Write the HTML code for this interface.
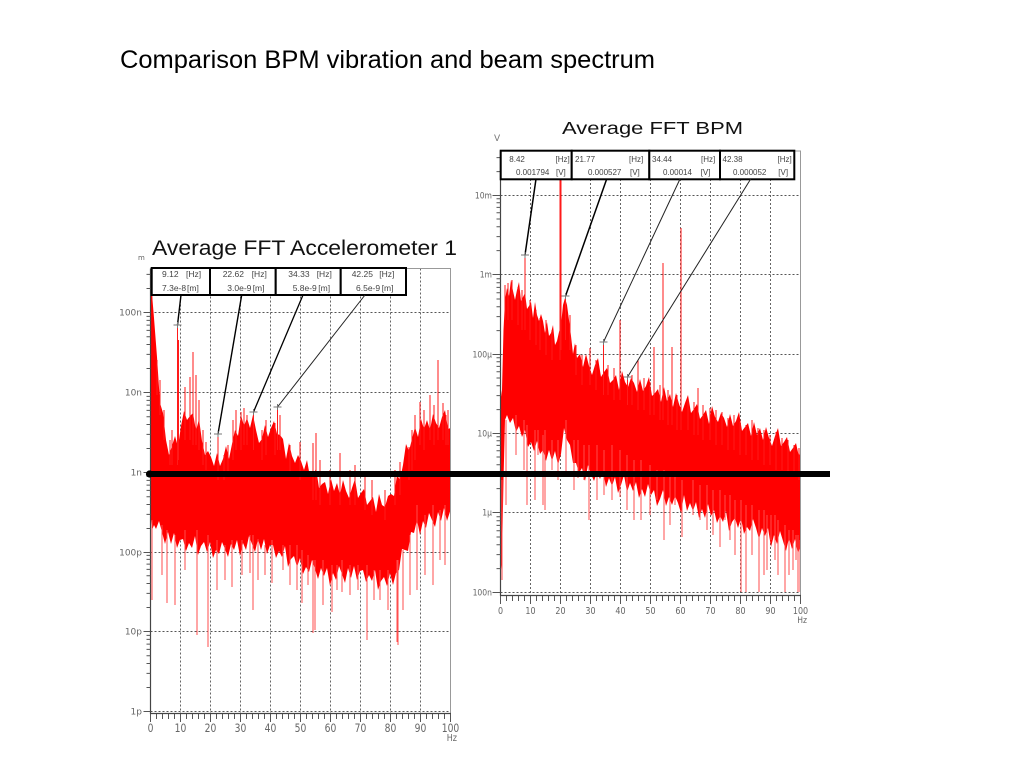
<!DOCTYPE html>
<html><head><meta charset="utf-8">
<style>
html,body{margin:0;padding:0;background:#fff;}
svg{display:block;}
</style></head>
<body>
<svg width="1024" height="768" viewBox="0 0 1024 768" xmlns="http://www.w3.org/2000/svg" font-family="Liberation Sans, Arial, sans-serif">
<defs>
<clipPath id="cl"><rect x="150.5" y="268.5" width="300" height="445"/></clipPath>
<clipPath id="cr"><rect x="500.5" y="151" width="300" height="444.5"/></clipPath>
</defs>
<rect width="1024" height="768" fill="#fff"/>
<text x="120" y="68" font-size="25" textLength="535" lengthAdjust="spacingAndGlyphs" fill="#000">Comparison BPM vibration and beam spectrum</text>
<text x="562" y="134" font-size="17.5" textLength="181" lengthAdjust="spacingAndGlyphs" fill="#111">Average FFT BPM</text>
<text x="152" y="255" font-size="21" textLength="305" lengthAdjust="spacingAndGlyphs" fill="#111">Average FFT Accelerometer 1</text>

<!-- ===== LEFT CHART ===== -->
<path d="M180.5 268.5V713.5M210.5 268.5V713.5M240.5 268.5V713.5M270.5 268.5V713.5M300.5 268.5V713.5M330.5 268.5V713.5M360.5 268.5V713.5M390.5 268.5V713.5M420.5 268.5V713.5M150.5 312.5H450.5M150.5 392.5H450.5M150.5 472.5H450.5M150.5 552.5H450.5M150.5 631.5H450.5M150.5 711.5H450.5" stroke="#555" stroke-width="0.9" stroke-dasharray="2 2" fill="none"/>
<g clip-path="url(#cl)">
<path fill="#ff0000" d="M150.5 268L151.5 268L152.5 300L154 318L157 357L160 403L163 413L166 440L169 455L172 446L175 436L178 447L181 426L184 411L187 420L190 416L193 413L196 431L199 419L202 441L205 455L208 451L211 457L214 466L217 453L220 466L223 459L226 446L229 459L232 444L235 430L238 436L241 415L244 426L247 418L250 428L253 415L256 430L259 443L262 439L265 425L268 437L271 428L274 421L277 434L280 435L283 439L286 459L289 443L292 456L295 463L298 455L301 461L304 470L307 460L310 477L313 477L316 468L319 488L322 484L325 482L328 494L331 479L334 491L337 483L340 495L343 480L346 491L349 498L352 488L355 479L358 498L361 493L364 489L367 505L370 501L373 497L376 512L379 494L382 505L385 507L388 496L391 494L394 496L397 475L400 480L403 465L406 444L409 451L412 439L415 427L418 437L421 419L424 429L427 420L430 430L433 414L436 423L439 428L442 417L445 410L448 429L450.5 428L450.5 510L447 521L444 508L441 521L438 512L435 527L432 520L429 513L426 528L423 521L420 535L417 520L414 533L411 532L408 551L405 550L402 549L399 570L396 573L393 585L390 573L387 586L384 577L381 581L378 590L375 570L372 581L369 575L366 582L363 570L360 571L357 580L354 566L351 578L348 568L345 583L342 574L339 566L336 580L333 573L330 586L327 568L324 576L321 568L318 579L315 569L312 560L309 572L306 567L303 574L300 558L297 567L294 556L291 559L288 567L285 546L282 557L279 551L276 558L273 545L270 545L267 554L264 539L261 550L258 539L255 552L252 544L249 536L246 550L243 543L240 556L237 540L234 550L231 544L228 557L225 549L222 542L219 554L216 550L213 558L210 542L207 552L204 542L201 546L198 555L195 536L192 548L189 543L186 551L183 539L180 540L177 548L174 533L171 544L168 532L165 544L162 532L159 521L156 529L154 525L152 530L151 520L150.5 500Z"/>
<path fill="none" stroke="#ff1a1a" stroke-width="1" d="M157 360V395M160 380V415M164 410V440M170 440V465M172 430V465M177.5 325V465M178.5 340V460M185 387V440M190 377V440M193 352V445M196 375V445M199 400V450M203 430V465M206 442V470M218 434V480M224 455V480M228 445V475M233 420V460M236 410V450M241 412V450M244 408V445M247 415V445M253.5 412V450M262 430V460M266 420V455M275 423V455M277.5 407V450M280 415V450M290 445V475M300 442V480M313 443V500M316 433V500M320 460V505M330 470V505M340 453V505M350 470V505M355 465V505M365 475V510M372 480V515M385 490V520M395 470V505M400 462V495M409 447V480M412 430V470M415 415V460M420 402V445M424 410V450M430 395V440M434 405V445M438 360V440M443 403V440M446 415V445M448 410V445"/>
<path fill="none" stroke="#ff4d4d" stroke-width="1" d="M152 600V520M162 575V525M167 603V530M175 605V535M185 570V530M197 635V530M208 647V535M217 590V540M225 580V545M232 587V540M242 575V540M250 573V535M253 610V535M258 580V540M265 575V545M272 583V540M283 570V545M290 585V545M297 590V545M302 603V550M308 585V555M313 633V560M315 630V560M323 605V560M332 612V565M337 590V565M342 592V560M350 595V565M358 590V565M367 640V565M374 600V570M380 600V570M388 610V570M397 642V560M398 645V560M403 610V550M410 595V535M417 590V505M425 575V515M433 585V505M440 560V510M445 565V505"/>
</g>
<path d="M150.5 268.5H450.5V713.5" stroke="#999" stroke-width="1" fill="none"/>
<path d="M150.5 268.5V713.5H451" stroke="#444" stroke-width="1.2" fill="none"/>
<path d="M146.5 288.5H150.5M146.5 274.4H150.5M146.5 368.5H150.5M146.5 354.4H150.5M146.5 344.5H150.5M146.5 336.7H150.5M146.5 330.4H150.5M146.5 325.1H150.5M146.5 320.4H150.5M146.5 316.4H150.5M146.5 448.5H150.5M146.5 434.4H150.5M146.5 424.5H150.5M146.5 416.7H150.5M146.5 410.4H150.5M146.5 405.1H150.5M146.5 400.4H150.5M146.5 396.4H150.5M146.5 528.5H150.5M146.5 514.4H150.5M146.5 504.5H150.5M146.5 496.7H150.5M146.5 490.4H150.5M146.5 485.1H150.5M146.5 480.4H150.5M146.5 476.4H150.5M146.5 607.5H150.5M146.5 593.4H150.5M146.5 583.5H150.5M146.5 575.7H150.5M146.5 569.4H150.5M146.5 564.1H150.5M146.5 559.4H150.5M146.5 555.4H150.5M146.5 687.5H150.5M146.5 673.4H150.5M146.5 663.5H150.5M146.5 655.7H150.5M146.5 649.4H150.5M146.5 644.1H150.5M146.5 639.4H150.5M146.5 635.4H150.5M143.5 312.5H150.5M143.5 392.5H150.5M143.5 472.5H150.5M143.5 552.5H150.5M143.5 631.5H150.5M143.5 711.5H150.5" stroke="#555" stroke-width="1" fill="none"/>
<path d="M150 716.5H452" stroke="#555" stroke-width="5" stroke-dasharray="1 5"/>
<path d="M150 718H452" stroke="#555" stroke-width="8" stroke-dasharray="1 29"/>

<!-- ===== RIGHT CHART ===== -->
<path d="M530.5 151V595.5M560.5 151V595.5M590.5 151V595.5M620.5 151V595.5M650.5 151V595.5M680.5 151V595.5M710.5 151V595.5M740.5 151V595.5M770.5 151V595.5M500.5 195.5H800.5M500.5 274.5H800.5M500.5 354.5H800.5M500.5 433.5H800.5M500.5 512.5H800.5M500.5 592.5H800.5" stroke="#555" stroke-width="0.9" stroke-dasharray="2 2" fill="none"/>
<g clip-path="url(#cr)">
<path fill="#ff0000" d="M500.5 400L502 390L503.5 330L505 300L507 288L509 296L511 280L513 291L515 300L517 290L519 282L521 301L523 297L525 293L527 309L529 306L531 302L533 318L535 302L537 315L539 321L541 314L543 321L545 333L547 322L549 336L551 333L553 325L555 345L557 341L559 332L561 325L563 305L565 298L567 305L569 320L571 336L573 354L575 343L577 358L580 354L583 367L586 354L589 366L592 375L595 365L598 358L601 377L604 372L607 368L610 383L613 380L616 375L619 390L622 371L625 382L628 387L631 378L634 383L637 392L640 379L643 391L646 386L649 377L652 396L655 393L658 389L661 402L664 387L667 401L670 394L673 407L676 393L679 404L682 412L685 403L688 395L691 413L694 409L697 404L700 419L703 415L706 410L709 424L712 406L715 417L718 422L721 413L724 418L727 427L730 414L733 426L736 421L739 412L742 431L745 427L748 423L751 436L754 422L757 435L760 428L763 440L766 427L769 438L772 446L775 436L778 428L781 446L784 442L787 437L790 452L793 448L796 443L799 457L800.5 452L800.5 545L798 554L795 539L792 549L789 538L786 551L783 541L780 531L777 544L774 535L771 547L768 528L765 536L762 528L759 539L756 528L753 519L750 531L747 527L744 534L741 518L738 528L735 518L732 522L729 531L726 511L723 522L720 516L717 523L714 510L711 516L708 504L705 518L702 509L699 518L696 502L693 511L690 503L687 511L684 495L681 513L678 503L675 496L672 505L669 497L666 506L663 490L660 499L657 506L654 490L651 495L648 484L645 497L642 489L639 498L636 482L633 491L630 483L627 492L624 475L621 485L618 493L615 477L612 486L609 478L606 487L603 471L600 479L597 472L594 481L591 474L588 465L585 481L582 468L579 473L576 463L573 463L570 445L567 440L564 428L561 454L558 465L555 451L552 461L549 450L546 461L543 450L540 454L537 441L534 451L531 442L528 447L525 430L522 437L519 426L516 432L513 418L510 423L507 415L505 420L503.5 480L502 560L500.5 575Z"/>
<path fill="none" stroke="#ff1a1a" stroke-width="1" d="M505 285V320M508 283V320M512 280V320M518 287V325M522 290V330M525 255V330M530 300V340M536 310V345M540 318V350M546 320V355M552 330V360M560 151V360M561 160V350M565.5 296V340M570 315V350M576 345V375M582 355V385M590 348V385M596 360V390M603.5 342V395M608 365V395M614 368V400M620 320V400M627.5 377V405M632 375V405M638 360V410M644 378V410M650 382V415M654 347V415M660 385V420M663 263V420M668 390V425M672 347V425M677 395V430M681 228V430M688 400V430M694 402V435M698 388V435M703 405V440M710 408V440M716 410V445M722 412V445M728 418V450M734 415V450M740 422V455M746 425V455M752 420V460M758 428V460M764 430V465M770 435V465M776 432V470M782 438V470M788 440V475M794 445V475M799 448V480"/>
<path fill="none" stroke="#ff4d4d" stroke-width="1" d="M502 580V480M506 505V420M516 455V415M524 470V420M527 505V425M535 500V430M538 455V430M543 505V435M545 510V430M552 470V440M558 480V440M566 475V420M574 490V440M578 478V440M584 480V445M589 520V445M597 500V445M604 495V450M612 500V445M620 497V450M627 510V455M634 520V460M641 520V460M650 515V465M657 500V470M664 540V470M670 525V475M675 505V475M682 537V480M693 515V480M700 520V485M707 530V485M713 535V490M720 547V490M725 520V495M730 540V495M735 555V500M741 592V500M746 592V505M752 555V505M759 592V510M764 575V510M767 570V515M771 540V515M775 560V515M778 575V520M785 592V525M789 575V530M793 570V530M796 560V535M798 592V535M800 592V540"/>
</g>
<path d="M500.5 151H800.5V595.5" stroke="#999" stroke-width="1" fill="none"/>
<path d="M500.5 151V595.5H801" stroke="#444" stroke-width="1.2" fill="none"/>
<path d="M496.5 171.6H500.5M496.5 157.6H500.5M496.5 250.6H500.5M496.5 236.6H500.5M496.5 226.7H500.5M496.5 219H500.5M496.5 212.7H500.5M496.5 207.4H500.5M496.5 202.8H500.5M496.5 198.7H500.5M496.5 330.6H500.5M496.5 316.6H500.5M496.5 306.7H500.5M496.5 299H500.5M496.5 292.7H500.5M496.5 287.4H500.5M496.5 282.8H500.5M496.5 278.7H500.5M496.5 409.6H500.5M496.5 395.6H500.5M496.5 385.7H500.5M496.5 378H500.5M496.5 371.7H500.5M496.5 366.4H500.5M496.5 361.8H500.5M496.5 357.7H500.5M496.5 488.6H500.5M496.5 474.6H500.5M496.5 464.7H500.5M496.5 457H500.5M496.5 450.7H500.5M496.5 445.4H500.5M496.5 440.8H500.5M496.5 436.7H500.5M496.5 568.6H500.5M496.5 554.6H500.5M496.5 544.7H500.5M496.5 537H500.5M496.5 530.7H500.5M496.5 525.4H500.5M496.5 520.8H500.5M496.5 516.7H500.5M492.5 195.5H500.5M492.5 274.5H500.5M492.5 354.5H500.5M492.5 433.5H500.5M492.5 512.5H500.5M492.5 592.5H500.5" stroke="#555" stroke-width="1" fill="none"/>
<path d="M500 598.5H802" stroke="#555" stroke-width="5" stroke-dasharray="1 5"/>
<path d="M500 600H802" stroke="#555" stroke-width="8" stroke-dasharray="1 29"/>

<!-- unit labels -->
<text x="138" y="260" font-size="7" fill="#666" font-family="DejaVu Sans, sans-serif">m</text>
<text x="494" y="141" font-size="9" fill="#777" font-family="DejaVu Sans, sans-serif">V</text>

<!-- left y labels -->
<g font-family="DejaVu Sans, sans-serif" font-size="9" fill="#666" text-anchor="end">
<text x="142" y="315.5">100n</text>
<text x="142" y="395.5">10n</text>
<text x="142" y="475.5">1n</text>
<text x="142" y="555.5">100p</text>
<text x="142" y="634.5">10p</text>
<text x="142" y="714.5">1p</text>
</g>
<!-- right y labels -->
<g font-family="DejaVu Sans, sans-serif" font-size="9" fill="#666" text-anchor="end">
<text transform="translate(492,198.5) scale(0.85,1)">10m</text>
<text transform="translate(492,277.5) scale(0.85,1)">1m</text>
<text transform="translate(492,357.5) scale(0.85,1)">100μ</text>
<text transform="translate(492,436.5) scale(0.85,1)">10μ</text>
<text transform="translate(492,515.5) scale(0.85,1)">1μ</text>
<text transform="translate(492,595.5) scale(0.85,1)">100n</text>
</g>
<!-- left x labels -->
<g font-family="DejaVu Sans, sans-serif" font-size="11.5" fill="#666" text-anchor="middle">
<text transform="translate(150.5,732) scale(0.8,1)">0</text>
<text transform="translate(180.5,732) scale(0.8,1)">10</text>
<text transform="translate(210.5,732) scale(0.8,1)">20</text>
<text transform="translate(240.5,732) scale(0.8,1)">30</text>
<text transform="translate(270.5,732) scale(0.8,1)">40</text>
<text transform="translate(300.5,732) scale(0.8,1)">50</text>
<text transform="translate(330.5,732) scale(0.8,1)">60</text>
<text transform="translate(360.5,732) scale(0.8,1)">70</text>
<text transform="translate(390.5,732) scale(0.8,1)">80</text>
<text transform="translate(420.5,732) scale(0.8,1)">90</text>
<text transform="translate(450.5,732) scale(0.8,1)">100</text>
</g>
<text transform="translate(457,741) scale(0.85,1)" font-family="DejaVu Sans, sans-serif" font-size="9.5" fill="#666" text-anchor="end">Hz</text>
<!-- right x labels -->
<g font-family="DejaVu Sans, sans-serif" font-size="10" fill="#666" text-anchor="middle">
<text transform="translate(500.5,614) scale(0.8,1)">0</text>
<text transform="translate(530.5,614) scale(0.8,1)">10</text>
<text transform="translate(560.5,614) scale(0.8,1)">20</text>
<text transform="translate(590.5,614) scale(0.8,1)">30</text>
<text transform="translate(620.5,614) scale(0.8,1)">40</text>
<text transform="translate(650.5,614) scale(0.8,1)">50</text>
<text transform="translate(680.5,614) scale(0.8,1)">60</text>
<text transform="translate(710.5,614) scale(0.8,1)">70</text>
<text transform="translate(740.5,614) scale(0.8,1)">80</text>
<text transform="translate(770.5,614) scale(0.8,1)">90</text>
<text transform="translate(800.5,614) scale(0.8,1)">100</text>
</g>
<text transform="translate(807,623) scale(0.85,1)" font-family="DejaVu Sans, sans-serif" font-size="9" fill="#666" text-anchor="end">Hz</text>

<!-- left label boxes -->
<g fill="#fff" stroke="#000" stroke-width="2">
<rect x="151.7" y="268" width="58.3" height="27"/>
<rect x="210" y="268" width="65.7" height="27"/>
<rect x="275.7" y="268" width="65" height="27"/>
<rect x="340.7" y="268" width="65.3" height="27"/>
</g>
<g font-size="8.5" fill="#444">
<text x="162" y="277">9.12</text><text x="186" y="277">[Hz]</text>
<text x="162" y="291">7.3e-8</text><text x="187" y="291">[m]</text>
<text x="222.7" y="277">22.62</text><text x="251.7" y="277">[Hz]</text>
<text x="227.3" y="291">3.0e-9</text><text x="252.7" y="291">[m]</text>
<text x="288.3" y="277">34.33</text><text x="316.7" y="277">[Hz]</text>
<text x="292.7" y="291">5.8e-9</text><text x="318.3" y="291">[m]</text>
<text x="351.7" y="277">42.25</text><text x="379.3" y="277">[Hz]</text>
<text x="356" y="291">6.5e-9</text><text x="381.7" y="291">[m]</text>
</g>

<!-- right label boxes -->
<g fill="#fff" stroke="#000" stroke-width="2">
<rect x="500.7" y="150.7" width="71" height="28.6"/>
<rect x="571.7" y="150.7" width="77.6" height="28.6"/>
<rect x="649.3" y="150.7" width="70.7" height="28.6"/>
<rect x="720" y="150.7" width="74.3" height="28.6"/>
</g>
<g font-size="8" fill="#444">
<text x="509.3" y="162">8.42</text><text x="555.5" y="162">[Hz]</text>
<text x="516" y="175">0.001794</text><text x="556" y="175">[V]</text>
<text x="575" y="162">21.77</text><text x="629" y="162">[Hz]</text>
<text x="588" y="175">0.000527</text><text x="630" y="175">[V]</text>
<text x="652" y="162">34.44</text><text x="701" y="162">[Hz]</text>
<text x="663" y="175">0.00014</text><text x="700.7" y="175">[V]</text>
<text x="722.5" y="162">42.38</text><text x="777.5" y="162">[Hz]</text>
<text x="733" y="175">0.000052</text><text x="778.3" y="175">[V]</text>
</g>

<!-- leader lines -->
<g stroke="#000" fill="none">
<path d="M181 295L177.5 325" stroke-width="1.4"/>
<path d="M241.7 295L218 434" stroke-width="1.4"/>
<path d="M303 295L253.5 412" stroke-width="1.3"/>
<path d="M365 295L277.5 407" stroke-width="1" stroke="#222"/>
<path d="M536 179L525 255" stroke-width="1.5"/>
<path d="M606.7 179L565.5 296" stroke-width="1.5"/>
<path d="M680 179L603.5 342" stroke-width="1" stroke="#222"/>
<path d="M750.7 179L627.5 377" stroke-width="1" stroke="#222"/>
</g>
<!-- markers -->
<g stroke="#777" stroke-width="1" fill="none">
<path d="M173.5 325H181.5M177.5 322V328"/>
<path d="M214 434H222M218 431V437"/>
<path d="M249.5 412H257.5M253.5 409V415"/>
<path d="M273.5 407H281.5M277.5 404V410"/>
<path d="M521 255H529M525 252V258"/>
<path d="M561.5 296H569.5M565.5 293V299"/>
<path d="M599.5 342H607.5M603.5 339V345"/>
<path d="M623.5 377H631.5M627.5 374V380"/>
</g>

<!-- thick black reference line -->
<rect x="148" y="471" width="682" height="6" fill="#000"/>
<circle cx="149.5" cy="474" r="3.6" fill="#000"/>
</svg>
</body></html>
